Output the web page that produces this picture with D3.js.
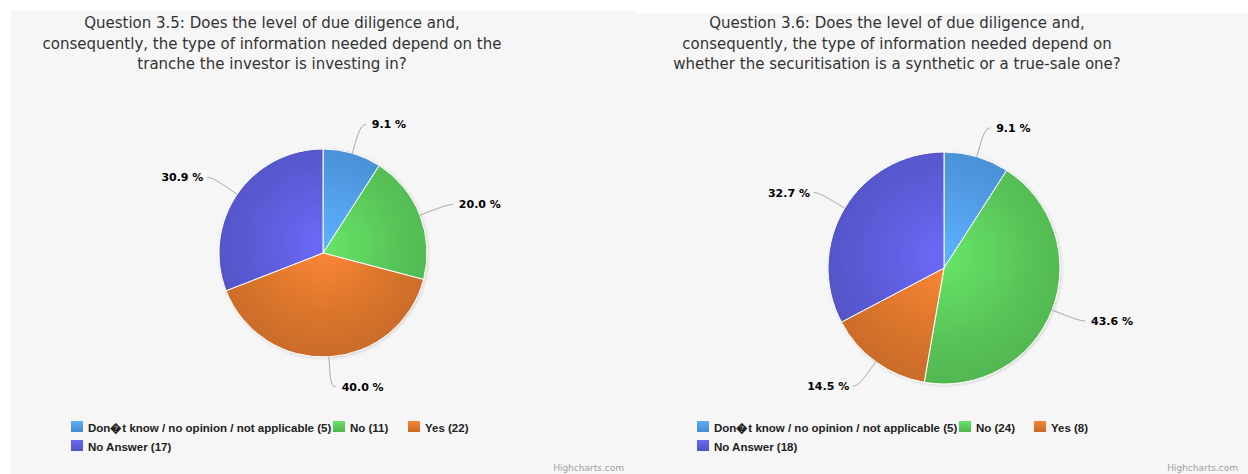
<!DOCTYPE html>
<html>
<head>
<meta charset="utf-8">
<script src="https://cdn.jsdelivr.net/npm/d3@7/dist/d3.min.js"></script>
<style>
  html, body { margin: 0; padding: 0; background: #ffffff; }
  svg { display: block; }
</style>
</head>
<body>
<svg id="chart" width="1248" height="474"></svg>
<script>
// Answer categories shared by both questions
const categories = [
  "Don\uFFFDt know / no opinion / not applicable",
  "No",
  "Yes",
  "No Answer"
];

// Number of respondents per answer
const counts35 = [5, 11, 22, 17];
const counts36 = [5, 24, 8, 18];

// Chart titles, one entry per line
const title35 = [
  "Question 3.5: Does the level of due diligence and,",
  "consequently, the type of information needed depend on the",
  "tranche the investor is investing in?"
];
const title36 = [
  "Question 3.6: Does the level of due diligence and,",
  "consequently, the type of information needed depend on",
  "whether the securitisation is a synthetic or a true-sale one?"
];

const seriesColors = ["#4e97de", "#58c458", "#d9742c", "#5a5ad4"];
const creditText = "Highcharts.com";

// Panel layout
const panels = [
  { x: 11,  y: 10, w: 623, h: 464, cx: 323, cy: 253, r: 104, titleX: 272, legendX: 71,  counts: counts35, title: title35 },
  { x: 634, y: 13, w: 614, h: 461, cx: 944, cy: 268, r: 116, titleX: 897, legendX: 697, counts: counts36, title: title36 }
];

const svg = d3.select("#chart");
const defs = svg.append("defs");

const shadow = defs.append("filter").attr("id", "pieShadow")
  .attr("x", "-10%").attr("y", "-10%").attr("width", "120%").attr("height", "120%");
shadow.append("feDropShadow").attr("dx", 1).attr("dy", 1)
  .attr("stdDeviation", 1.5).attr("flood-color", "#000").attr("flood-opacity", 0.15);

const pie = d3.pie().sort(null).value(d => d);
const fmt = v => v.toFixed(1) + " %";
const legendFont = "Liberation Sans, Arial, sans-serif";

panels.forEach((p, pi) => {
  const g = svg.append("g");

  g.append("rect")
    .attr("x", p.x).attr("y", p.y).attr("width", p.w).attr("height", p.h)
    .attr("fill", "#f6f6f6");

  const bottom = p.y + p.h;

  // Title
  const title = g.append("text")
    .attr("text-anchor", "middle")
    .attr("font-family", "DejaVu Sans, sans-serif")
    .attr("font-size", 15)
    .attr("fill", "#333333");
  p.title.forEach((line, i) => {
    title.append("tspan").attr("x", p.titleX).attr("y", 28 + i * 20.5).text(line);
  });

  // Gradients for slices and legend symbols
  seriesColors.forEach((c, i) => {
    const grad = defs.append("radialGradient")
      .attr("id", `grad-${pi}-${i}`)
      .attr("gradientUnits", "userSpaceOnUse")
      .attr("cx", 0).attr("cy", -p.r * 0.1).attr("r", p.r * 1.1);
    grad.append("stop").attr("offset", 0).attr("stop-color", d3.rgb(c).brighter(0.45));
    grad.append("stop").attr("offset", 0.65).attr("stop-color", c);
    grad.append("stop").attr("offset", 1).attr("stop-color", d3.rgb(c).darker(0.2));
    const lg = defs.append("linearGradient")
      .attr("id", `lgrad-${pi}-${i}`).attr("x1", 0).attr("y1", 0).attr("x2", 0).attr("y2", 1);
    lg.append("stop").attr("offset", 0).attr("stop-color", d3.rgb(c).brighter(0.4));
    lg.append("stop").attr("offset", 1).attr("stop-color", d3.rgb(c).darker(0.25));
  });

  const total = d3.sum(p.counts);
  const arcs = pie(p.counts);
  const arc = d3.arc().innerRadius(0).outerRadius(p.r);

  const pieG = g.append("g")
    .attr("transform", `translate(${p.cx},${p.cy})`)
    .attr("filter", "url(#pieShadow)");
  pieG.selectAll("path").data(arcs).enter().append("path")
    .attr("d", arc)
    .attr("fill", (d, i) => `url(#grad-${pi}-${i})`)
    .attr("stroke", "#ffffff")
    .attr("stroke-width", 1)
    .attr("stroke-linejoin", "round");

  // Data labels with soft connectors
  const dist = 30, off = 10;
  arcs.forEach((d, i) => {
    const a = (d.startAngle + d.endAngle) / 2;
    const s = Math.sin(a), c = Math.cos(a);
    const right = a < Math.PI;
    const lx = p.cx + (p.r + dist) * s, ly = p.cy - (p.r + dist) * c;
    const bx = p.cx + (p.r + off) * s, by = p.cy - (p.r + off) * c;
    const ex = p.cx + p.r * s, ey = p.cy - p.r * c;
    const sx = lx + (right ? 5 : -5);
    const path = d3.path();
    path.moveTo(sx, ly);
    path.bezierCurveTo(lx, ly, 2 * bx - ex, 2 * by - ey, bx, by);
    path.lineTo(ex, ey);
    g.append("path").attr("d", path.toString())
      .attr("fill", "none").attr("stroke", "#a8a8a8").attr("stroke-width", 1);
    g.append("text")
      .attr("x", lx + (right ? 11 : -9))
      .attr("y", ly + 4)
      .attr("text-anchor", right ? "start" : "end")
      .attr("font-family", "DejaVu Sans, sans-serif")
      .attr("font-size", 11)
      .attr("font-weight", "bold")
      .attr("fill", "#000000")
      .text(fmt(d.value / total * 100));
  });

  // Legend: two rows, the long first item is overdrawn by the next symbol
  const legend = g.append("g").attr("font-family", legendFont)
    .attr("font-size", 11.5).attr("font-weight", "bold");
  const row1 = bottom - 42, row2 = bottom - 23;
  const itemsX = [p.legendX, p.legendX + 262, p.legendX + 337];
  const positions = [
    { x: itemsX[0], y: row1 },
    { x: itemsX[1], y: row1 },
    { x: itemsX[2], y: row1 },
    { x: itemsX[0], y: row2 }
  ];
  const order = [0, 3, 1, 2];
  order.forEach(i => {
    const pos = positions[i];
    legend.append("text")
      .attr("x", pos.x + 17).attr("y", pos.y)
      .attr("fill", "#222222")
      .text(`${categories[i]} (${p.counts[i]})`);
  });
  // Clip the first item so it stops under the next symbol
  const first = legend.select("text").node();
  const firstWidth = itemsX[1] - itemsX[0] - 17 + 2;
  if (first.getComputedTextLength() > firstWidth) {
    defs.append("clipPath").attr("id", `legClip-${pi}`)
      .append("rect").attr("x", itemsX[0]).attr("y", row1 - 14)
      .attr("width", firstWidth + 17).attr("height", 20);
    d3.select(first).attr("clip-path", `url(#legClip-${pi})`);
  }
  order.forEach(i => {
    const pos = positions[i];
    legend.append("rect")
      .attr("x", pos.x).attr("y", pos.y - 11)
      .attr("width", 12).attr("height", 11)
      .attr("fill", `url(#lgrad-${pi}-${i})`);
  });

  // Credit
  g.append("text")
    .attr("x", p.x + p.w - 10).attr("y", bottom - 3)
    .attr("text-anchor", "end")
    .attr("font-family", "DejaVu Sans, sans-serif")
    .attr("font-size", 9)
    .attr("fill", "#a0a0a0")
    .text(creditText);
});
</script>
</body>
</html>
